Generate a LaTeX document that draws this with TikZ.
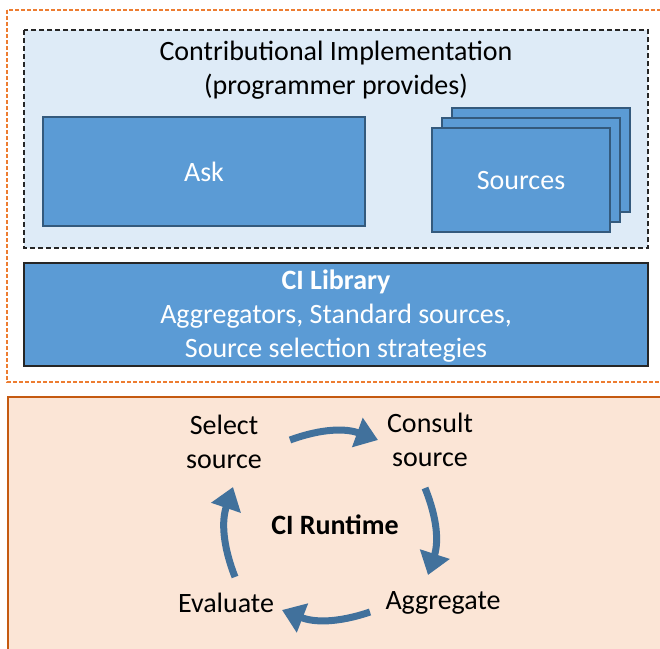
\documentclass[tikz,border=0pt]{standalone}
\usepackage{fontspec}
\setmainfont{Carlito}
\usetikzlibrary{arrows.meta}
\definecolor{bfill}{HTML}{5B9BD5}
\definecolor{bdraw}{HTML}{41719C}
\definecolor{lblue}{HTML}{DEEBF7}
\definecolor{orng}{HTML}{ED7D31}
\definecolor{pfill}{HTML}{FBE5D6}
\definecolor{pdraw}{HTML}{C55A11}
\definecolor{arr}{HTML}{41719C}
\tikzset{
  bluebox/.style={draw=bdraw!80!black, fill=bfill, line width=1.2pt},
  wtext/.style={text=white, font=\fontsize{28}{34}\selectfont, align=center},
  btext/.style={text=black, font=\fontsize{28}{34}\selectfont, align=center},
  cyc/.style={draw=arr, line width=7pt, -{Triangle[width=30pt,length=22pt]}, bend left=20}
}
\begin{document}
\begin{tikzpicture}[x=1pt,y=-1pt]
\useasboundingbox (0,0) rectangle (660,648);
\clip (0,0) rectangle (660,648);
% outer orange dashed box
\draw[orng, line width=1.2pt, dash pattern=on 4pt off 2pt] (7,10) rectangle (670,382);
% inner dashed box
\draw[black!85, fill=lblue, line width=1.1pt, dash pattern=on 5pt off 3pt] (24,30) rectangle (648,248);
\node[btext] (ci) at (336,70) {Contributional Implementation\\(programmer provides)};
% Ask
\draw[bluebox] (43,117) rectangle (365,226);
\node[wtext] (ask) at (204,172) {Ask};
% Sources stack
\draw[bluebox] (452,108) rectangle (630,212);
\draw[bluebox] (442,118) rectangle (620,222);
\draw[bluebox] (432,128) rectangle (610,232);
\node[wtext] (src) at (521,181) {Sources};
% CI Library
\draw[draw=black!85, fill=bfill, line width=1.2pt] (24,263) rectangle (648,366);
\node[wtext] (lib) at (336,316) {\textbf{CI Library}\\Aggregators, Standard sources,\\Source selection strategies};
% Runtime box
\draw[draw=pdraw, fill=pfill, line width=1.8pt] (8,397) rectangle (680,680);
\node[btext] (sel) at (224,442) {Select\\source};
\node[btext] (con) at (430,440) {Consult\\source};
\node[btext, font=\fontsize{28}{34}\selectfont\bfseries] (rt) at (335,525) {CI Runtime};
\node[btext] (eva) at (226,603) {Evaluate};
\node[btext] (agg) at (443,603) {Aggregate};
% cycle arrows
\draw[cyc] ([shift={(66,-2)}]sel.center) to ([shift={(-52,0)}]con.center);
\draw[cyc] ([shift={(-5,48)}]con.center) to ([shift={(-15,-28)}]agg.center);
\draw[cyc] ([shift={(-73,9)}]agg.center) to ([shift={(56,7)}]eva.center);
\draw[cyc] ([shift={(9,-26)}]eva.center) to ([shift={(9,45)}]sel.center);
\end{tikzpicture}
\end{document}
